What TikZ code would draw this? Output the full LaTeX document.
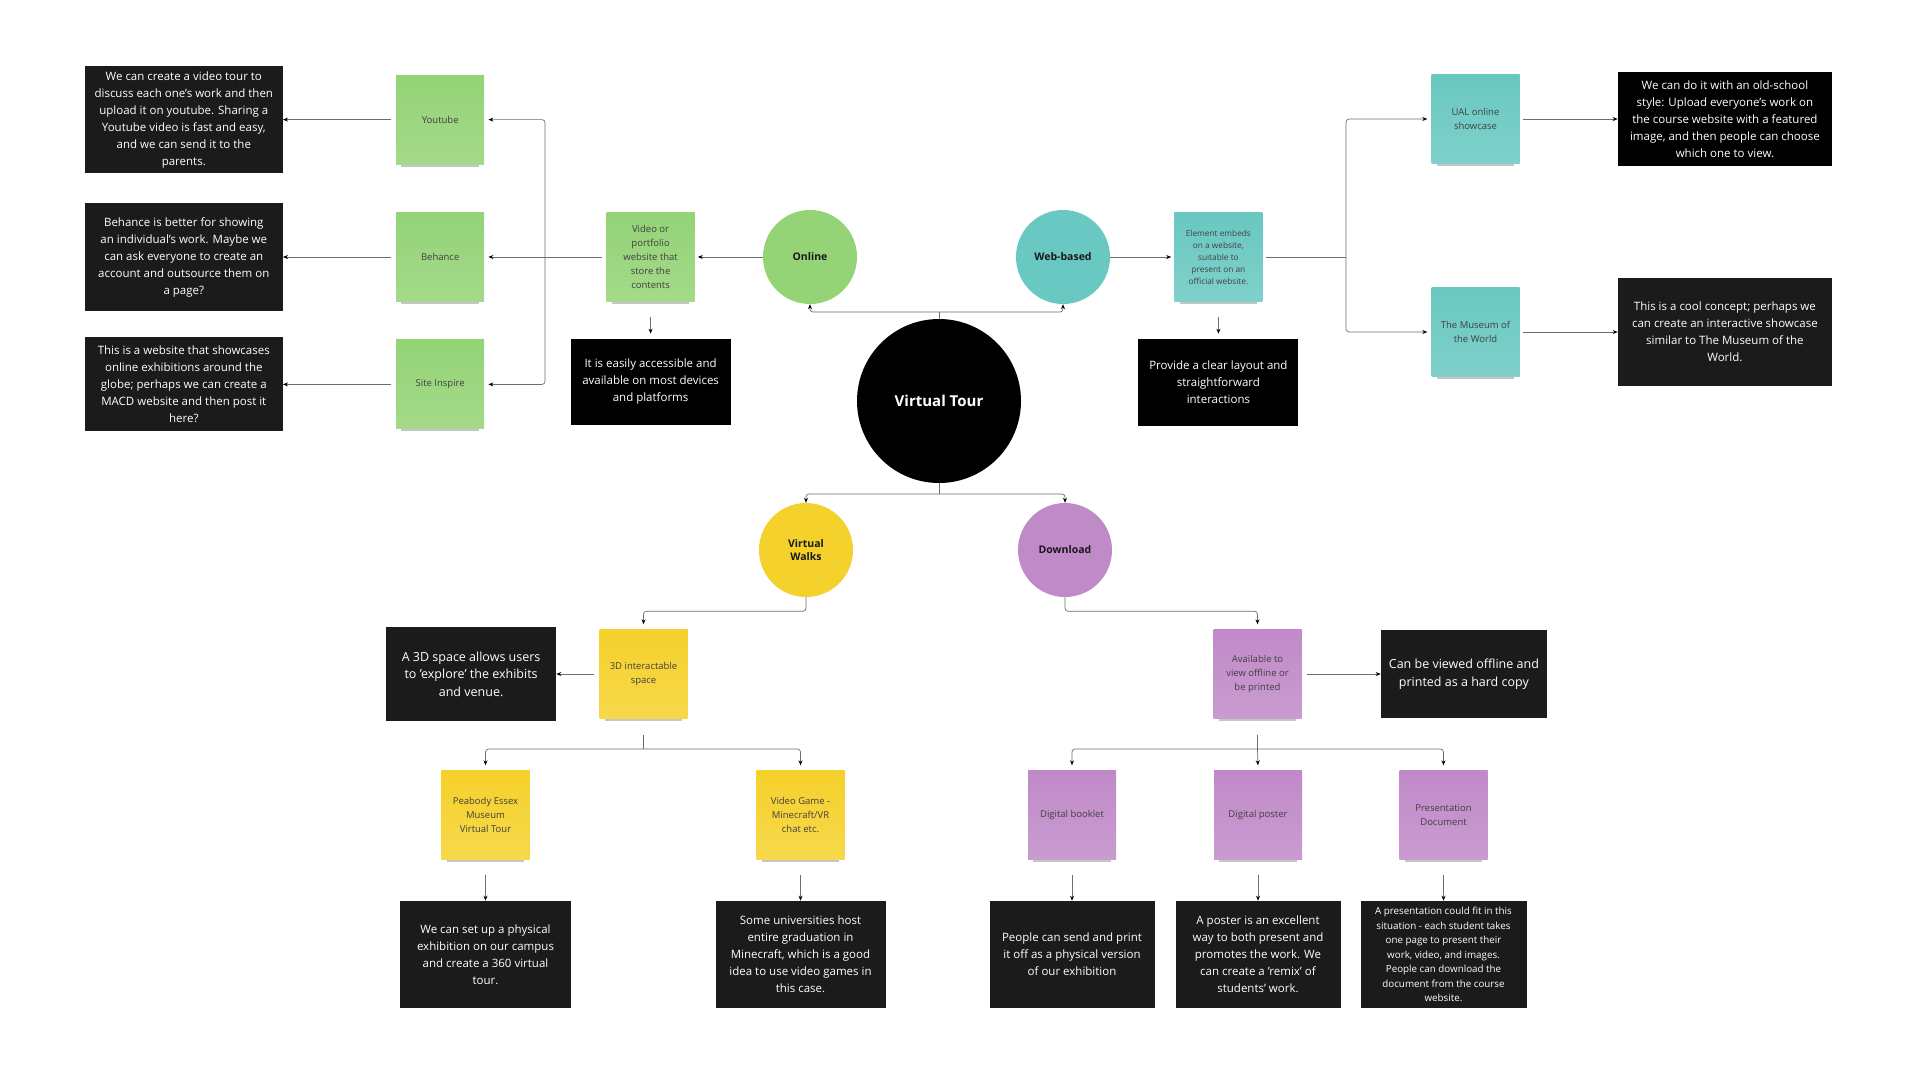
\documentclass[tikz,border=0pt]{standalone}
\usepackage{fontspec}
\setmainfont{Open Sans}
\usepackage{tikz}
\usetikzlibrary{positioning,arrows.meta,shadows}

\definecolor{greenN}{HTML}{94D376}
\definecolor{tealN}{HTML}{69C8C1}
\definecolor{yellowN}{HTML}{F5D12B}
\definecolor{purpleN}{HTML}{C08AC8}
\definecolor{boxdark}{HTML}{1B1B1B}
\definecolor{linegray}{HTML}{6E6E6E}

\newcommand\desctext{\fontsize{11.5}{17}\selectfont}
\newcommand\smalldesc{\fontsize{9.8}{14.5}\selectfont}
\newcommand\notetext{\fontsize{9.5}{13.8}\selectfont}
\newcommand\tinynote{\fontsize{8.3}{12}\selectfont}
\newcommand\hubtext{\fontsize{10.5}{13.5}\selectfont\bfseries}

\tikzset{
	hub/.style={circle, fill=#1, minimum size=94pt, inner sep=0pt,
		align=center, font=\hubtext, text=black!90},
	note/.style={top color=#1, bottom color=#1!85!white,
		minimum width=88pt, minimum height=89pt, inner sep=2pt,
		align=center, font=\notetext, text=black!75,
		drop shadow={shadow xshift=0pt, shadow yshift=-9pt,
			shadow scale=0.88, opacity=0.45}},
	desc/.style={fill=boxdark, text=white, align=center,
		inner sep=3pt, font=\desctext},
	link/.style={draw=linegray, line width=0.7pt, rounded corners=3pt},
	arr/.style={link, -{Stealth[length=5pt, width=4pt, color=black]}},
}

\begin{document}
\begin{tikzpicture}[x=1pt, y=-1pt]
	\fill[white] (0,0) rectangle (1920,1080);
	\useasboundingbox (0,0) rectangle (1920,1080);

	% Virtual Tour
	\node [circle,
		fill=black,
		minimum size=164pt,
		text=white,
		font=\fontsize{15}{18}\selectfont\bfseries
		] (tour) at (939,401) {Virtual Tour};

	% Branches
	\node [hub=greenN] (online) at (810,257) {Online};
	\node [hub=tealN] (web) at (1063,257) {Web-based};
	\node [hub=yellowN] (walks) at (806,550) {Virtual\\Walks};
	\node [hub=purpleN] (download) at (1065,550) {Download};

	% Online
	\node [note=greenN, left=68pt of online] (vid)
		{Video or\\portfolio\\website that\\store the\\contents};
	\node [note=greenN, left=122pt of vid] (beh) {Behance};
	\node [note=greenN, above=48pt of beh] (yt) {Youtube};
	\node [note=greenN, below=38pt of beh] (site) {Site Inspire};
	\node [desc, minimum width=198pt, minimum height=107pt,
		left=113pt of yt] (ytd)
		{We can create a video tour to\\discuss each one's work and then\\upload it on youtube. Sharing a\\Youtube video is fast and easy,\\and we can send it to the\\parents.};
	\node [desc, minimum width=198pt, minimum height=108pt,
		left=113pt of beh] (behd)
		{Behance is better for showing\\an individual's work. Maybe we\\can ask everyone to create an\\account and outsource them on\\a page?};
	\node [desc, minimum width=198pt, minimum height=94pt,
		left=113pt of site] (sited)
		{This is a website that showcases\\online exhibitions around the\\globe; perhaps we can create a\\MACD website and then post it\\here?};
	\node [desc, fill=black, minimum width=160pt, minimum height=86pt,
		below=37pt of vid] (accd)
		{It is easily accessible and\\available on most devices\\and platforms};

	% Web-based
	\node [note=tealN, font=\tinynote, right=64pt of web] (elem)
		{Element embeds\\on a website,\\suitable to\\present on an\\official website.};
	\node [desc, fill=black, minimum width=160pt, minimum height=87pt,
		below=37pt of elem] (provd)
		{Provide a clear layout and\\straightforward\\interactions};
	\node [note=tealN] (ual) at (1475.5,119) {UAL online\\showcase};
	\node [note=tealN] (mus) at (1475.5,332) {The Museum of\\the World};
	\node [desc, fill=black, minimum width=214pt, minimum height=94pt,
		right=98pt of ual] (uald)
		{We can do it with an old-school\\style: Upload everyone's work on\\the course website with a featured\\image, and then people can choose\\which one to view.};
	\node [desc, minimum width=214pt, minimum height=108pt,
		right=98pt of mus] (musd)
		{This is a cool concept; perhaps we\\can create an interactive showcase\\similar to The Museum of the\\World.};

	% Virtual Walks
	\node [note=yellowN] (three) at (643.5,674) {3D interactable\\space};
	\node [desc, font=\fontsize{12.5}{17.5}\selectfont,
		minimum width=170pt, minimum height=94pt,
		left=43pt of three] (threed)
		{A 3D space allows users\\to 'explore' the exhibits\\and venue.};
	\node [note=yellowN] (pea) at (485.5,815) {Peabody Essex\\Museum\\Virtual Tour};
	\node [note=yellowN] (game) at (800.5,815) {Video Game -\\Minecraft/VR\\chat etc.};
	\node [desc, minimum width=171pt, minimum height=107pt,
		below=41pt of pea] (pead)
		{We can set up a physical\\exhibition on our campus\\and create a 360 virtual\\tour.};
	\node [desc, minimum width=170pt, minimum height=107pt,
		below=41pt of game] (gamed)
		{Some universities host\\entire graduation in\\Minecraft, which is a good\\idea to use video games in\\this case.};

	% Download
	\node [note=purpleN] (avail) at (1257.5,674) {Available to\\view offline or\\be printed};
	\node [desc, font=\fontsize{12.5}{17.5}\selectfont,
		minimum width=166pt, minimum height=88pt,
		right=79pt of avail] (viewd)
		{Can be viewed offline and\\printed as a hard copy};
	\node [note=purpleN] (book) at (1072,815) {Digital booklet};
	\node [note=purpleN] (poster) at (1258,815) {Digital poster};
	\node [note=purpleN] (pres) at (1443.5,815) {Presentation\\Document};
	\node [desc, minimum width=165pt, minimum height=107pt,
		below=41pt of book] (bookd)
		{People can send and print\\it off as a physical version\\of our exhibition};
	\node [desc, minimum width=165pt, minimum height=107pt,
		below=41pt of poster] (posterd)
		{A poster is an excellent\\way to both present and\\promotes the work. We\\can create a 'remix' of\\students' work.};
	\node [desc, font=\smalldesc, minimum width=166pt, minimum height=107pt,
		below=41pt of pres] (presd)
		{A presentation could fit in this\\situation - each student takes\\one page to present their\\work, video, and images.\\People can download the\\document from the course\\website.};

	% Arrows
	\coordinate (ttop) at (939,312);
	\coordinate (tbot) at (939,494);
	\draw[link] (tour.north) -- (ttop);
	\draw[arr] (ttop) -| (online.south);
	\draw[arr] (ttop) -| (web.south);
	\draw[link] (tour.south) -- (tbot);
	\draw[arr] (tbot) -| (walks.north);
	\draw[arr] (tbot) -| (download.north);

	\coordinate (lbus) at (545,257);
	\draw[arr, shorten >=3pt] (online.west) -- (vid.east);
	\draw[link, shorten <=4pt] (vid.west) -- (lbus);
	\draw[arr, shorten >=4pt] (lbus) |- (yt.east);
	\draw[arr, shorten >=4pt] (lbus) -- (beh.east);
	\draw[arr, shorten >=4pt] (lbus) |- (site.east);
	\draw[arr, shorten <=5pt] (yt.west) -- (ytd.east);
	\draw[arr, shorten <=5pt] (beh.west) -- (behd.east);
	\draw[arr, shorten <=5pt] (site.west) -- (sited.east);
	\draw[arr, shorten <=15pt, shorten >=5pt] (vid.south) -- (accd.north);

	\coordinate (rbus) at (1346,257);
	\draw[arr, shorten >=3pt] (web.east) -- (elem.west);
	\draw[link, shorten <=3pt] (elem.east) -- (rbus);
	\draw[arr, shorten >=4pt] (rbus) |- (ual.west);
	\draw[arr, shorten >=4pt] (rbus) |- (mus.west);
	\draw[arr, shorten <=3pt] (ual.east) -- (uald.west);
	\draw[arr, shorten <=3pt] (mus.east) -- (musd.west);
	\draw[arr, shorten <=15pt, shorten >=5pt] (elem.south) -- (provd.north);

	\coordinate (tsplit) at (643.5,749);
	\draw[arr, shorten >=5pt] (walks.south) -- ++(0,14) -| (three.north);
	\draw[arr, shorten <=5pt] (three.west) -- (threed.east);
	\draw[link, shorten <=16pt] (three.south) -- (tsplit);
	\draw[arr, shorten >=5pt] (tsplit) -| (pea.north);
	\draw[arr, shorten >=5pt] (tsplit) -| (game.north);
	\draw[arr, shorten <=15pt] (pea.south) -- (pead.north);
	\draw[arr, shorten <=15pt] (game.south) -- (gamed.north);

	\coordinate (asplit) at (1257.5,749);
	\draw[arr, shorten >=5pt] (download.south) -- ++(0,14) -| (avail.north);
	\draw[arr, shorten <=5pt] (avail.east) -- (viewd.west);
	\draw[link, shorten <=16pt] (avail.south) -- (asplit);
	\draw[arr, shorten >=5pt] (asplit) -| (book.north);
	\draw[arr, shorten >=5pt] (asplit) -- (poster.north);
	\draw[arr, shorten >=5pt] (asplit) -| (pres.north);
	\draw[arr, shorten <=15pt] (book.south) -- (bookd.north);
	\draw[arr, shorten <=15pt] (poster.south) -- (posterd.north);
	\draw[arr, shorten <=15pt] (pres.south) -- (presd.north);
\end{tikzpicture}
\end{document}
